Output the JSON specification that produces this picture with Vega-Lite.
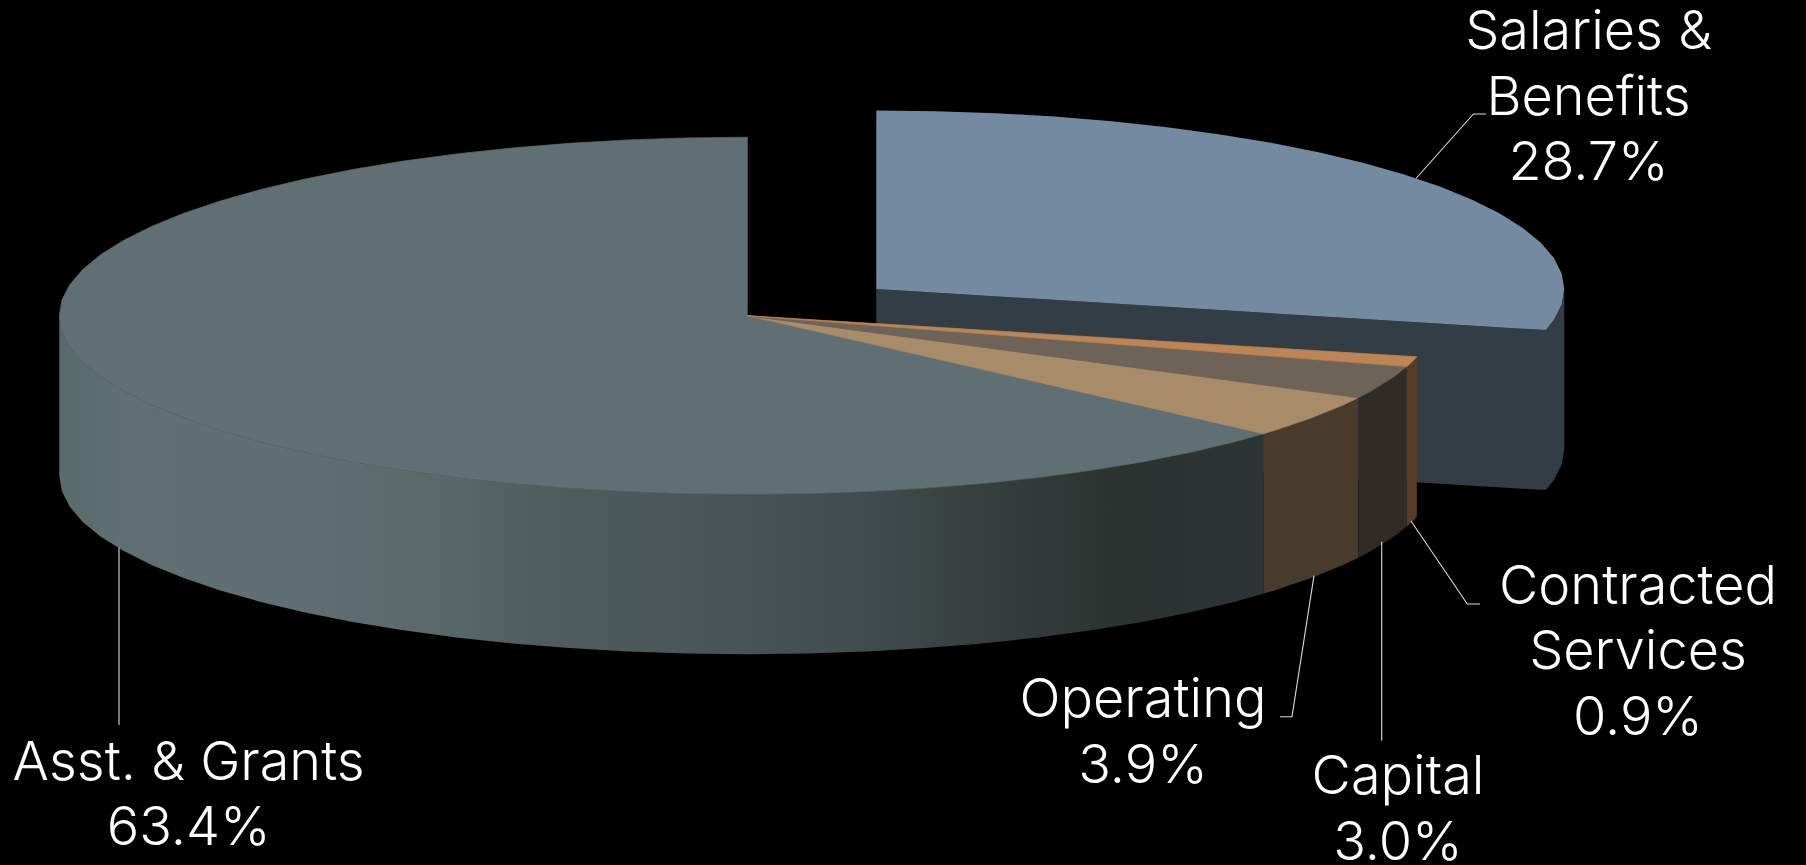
{
  "$schema": "https://vega.github.io/schema/vega-lite/v6.json",
  "width": 1806,
  "height": 865,
  "padding": 0,
  "autosize": "none",
  "background": "#000000",
  "config": {"view": {"stroke": null}},
  "datasets": {
    "salariesFaces": [
      {"face":"Salaries wall","seq":0,"x":876.3,"y":289},
      {"face":"Salaries wall","seq":1,"x":1545.8,"y":330.1},
      {"face":"Salaries wall","seq":2,"x":1553.9,"y":320},
      {"face":"Salaries wall","seq":3,"x":1561.7,"y":304.6},
      {"face":"Salaries wall","seq":4,"x":1564.3,"y":289},
      {"face":"Salaries wall","seq":5,"x":1564.3,"y":449},
      {"face":"Salaries wall","seq":6,"x":1561.7,"y":464.6},
      {"face":"Salaries wall","seq":7,"x":1553.9,"y":480},
      {"face":"Salaries wall","seq":8,"x":1545.8,"y":490.1},
      {"face":"Salaries wall","seq":9,"x":876.3,"y":449},

      {"face":"Salaries top","seq":0,"x":876.3,"y":289},
      {"face":"Salaries top","seq":1,"x":876.3,"y":110.5},
      {"face":"Salaries top","seq":2,"x":936.3,"y":111.2},
      {"face":"Salaries top","seq":3,"x":995.8,"y":113.2},
      {"face":"Salaries top","seq":4,"x":1054.4,"y":116.6},
      {"face":"Salaries top","seq":5,"x":1111.6,"y":121.3},
      {"face":"Salaries top","seq":6,"x":1167.1,"y":127.2},
      {"face":"Salaries top","seq":7,"x":1220.3,"y":134.4},
      {"face":"Salaries top","seq":8,"x":1270.9,"y":142.8},
      {"face":"Salaries top","seq":9,"x":1318.5,"y":152.3},
      {"face":"Salaries top","seq":10,"x":1362.8,"y":162.8},
      {"face":"Salaries top","seq":11,"x":1403.3,"y":174.3},
      {"face":"Salaries top","seq":12,"x":1439.9,"y":186.6},
      {"face":"Salaries top","seq":13,"x":1472.1,"y":199.7},
      {"face":"Salaries top","seq":14,"x":1499.8,"y":213.6},
      {"face":"Salaries top","seq":15,"x":1522.8,"y":227.9},
      {"face":"Salaries top","seq":16,"x":1540.9,"y":242.8},
      {"face":"Salaries top","seq":17,"x":1553.9,"y":258},
      {"face":"Salaries top","seq":18,"x":1561.7,"y":273.4},
      {"face":"Salaries top","seq":19,"x":1564.3,"y":289},
      {"face":"Salaries top","seq":20,"x":1561.7,"y":304.6},
      {"face":"Salaries top","seq":21,"x":1553.9,"y":320},
      {"face":"Salaries top","seq":22,"x":1545.8,"y":330.1}
    ],
    "faces": [
      {"face":"Asst top","seq":0,"x":747.3,"y":315.7},
      {"face":"Asst top","seq":1,"x":1263.4,"y":433.7},
      {"face":"Asst top","seq":2,"x":1233.8,"y":441.9},
      {"face":"Asst top","seq":3,"x":1189.5,"y":452.4},
      {"face":"Asst top","seq":4,"x":1141.9,"y":461.9},
      {"face":"Asst top","seq":5,"x":1091.3,"y":470.3},
      {"face":"Asst top","seq":6,"x":1038.1,"y":477.5},
      {"face":"Asst top","seq":7,"x":982.6,"y":483.4},
      {"face":"Asst top","seq":8,"x":925.4,"y":488.1},
      {"face":"Asst top","seq":9,"x":866.8,"y":491.5},
      {"face":"Asst top","seq":10,"x":807.3,"y":493.5},
      {"face":"Asst top","seq":11,"x":747.3,"y":494.2},
      {"face":"Asst top","seq":12,"x":687.3,"y":493.5},
      {"face":"Asst top","seq":13,"x":627.8,"y":491.5},
      {"face":"Asst top","seq":14,"x":569.2,"y":488.1},
      {"face":"Asst top","seq":15,"x":512,"y":483.4},
      {"face":"Asst top","seq":16,"x":456.5,"y":477.5},
      {"face":"Asst top","seq":17,"x":403.3,"y":470.3},
      {"face":"Asst top","seq":18,"x":352.7,"y":461.9},
      {"face":"Asst top","seq":19,"x":305.1,"y":452.4},
      {"face":"Asst top","seq":20,"x":260.8,"y":441.9},
      {"face":"Asst top","seq":21,"x":220.3,"y":430.4},
      {"face":"Asst top","seq":22,"x":183.7,"y":418.1},
      {"face":"Asst top","seq":23,"x":151.5,"y":405},
      {"face":"Asst top","seq":24,"x":123.8,"y":391.1},
      {"face":"Asst top","seq":25,"x":100.8,"y":376.8},
      {"face":"Asst top","seq":26,"x":82.7,"y":361.9},
      {"face":"Asst top","seq":27,"x":69.7,"y":346.7},
      {"face":"Asst top","seq":28,"x":61.9,"y":331.3},
      {"face":"Asst top","seq":29,"x":59.3,"y":315.7},
      {"face":"Asst top","seq":30,"x":61.9,"y":300.1},
      {"face":"Asst top","seq":31,"x":69.7,"y":284.7},
      {"face":"Asst top","seq":32,"x":82.7,"y":269.5},
      {"face":"Asst top","seq":33,"x":100.8,"y":254.6},
      {"face":"Asst top","seq":34,"x":123.8,"y":240.3},
      {"face":"Asst top","seq":35,"x":151.5,"y":226.4},
      {"face":"Asst top","seq":36,"x":183.7,"y":213.3},
      {"face":"Asst top","seq":37,"x":220.3,"y":201},
      {"face":"Asst top","seq":38,"x":260.8,"y":189.5},
      {"face":"Asst top","seq":39,"x":305.1,"y":179},
      {"face":"Asst top","seq":40,"x":352.7,"y":169.5},
      {"face":"Asst top","seq":41,"x":403.3,"y":161.1},
      {"face":"Asst top","seq":42,"x":456.5,"y":153.9},
      {"face":"Asst top","seq":43,"x":512,"y":148},
      {"face":"Asst top","seq":44,"x":569.2,"y":143.3},
      {"face":"Asst top","seq":45,"x":627.8,"y":139.9},
      {"face":"Asst top","seq":46,"x":687.3,"y":137.9},
      {"face":"Asst top","seq":47,"x":747.3,"y":137.2},

      {"face":"Operating top","seq":0,"x":747.3,"y":315.7},
      {"face":"Operating top","seq":1,"x":1358.3,"y":397.7},
      {"face":"Operating top","seq":2,"x":1343.1,"y":405},
      {"face":"Operating top","seq":3,"x":1310.9,"y":418.1},
      {"face":"Operating top","seq":4,"x":1274.3,"y":430.4},
      {"face":"Operating top","seq":5,"x":1263.4,"y":433.7},

      {"face":"Capital top","seq":0,"x":747.3,"y":315.7},
      {"face":"Capital top","seq":1,"x":1406.8,"y":366.6},
      {"face":"Capital top","seq":2,"x":1393.8,"y":376.8},
      {"face":"Capital top","seq":3,"x":1370.8,"y":391.1},
      {"face":"Capital top","seq":4,"x":1358.3,"y":397.7},

      {"face":"Contracted top","seq":0,"x":747.3,"y":315.7},
      {"face":"Contracted top","seq":1,"x":1416.8,"y":356.8},
      {"face":"Contracted top","seq":2,"x":1411.9,"y":361.9},
      {"face":"Contracted top","seq":3,"x":1406.8,"y":366.6}
    ],
    "grantsWall": [
      {"x":59.3,"top":315.7,"bottom":475.7},
      {"x":61.9,"top":331.3,"bottom":491.3},
      {"x":69.7,"top":346.7,"bottom":506.7},
      {"x":82.7,"top":361.9,"bottom":521.9},
      {"x":100.8,"top":376.8,"bottom":536.8},
      {"x":123.8,"top":391.1,"bottom":551.1},
      {"x":151.5,"top":405,"bottom":565},
      {"x":183.7,"top":418.1,"bottom":578.1},
      {"x":220.3,"top":430.4,"bottom":590.4},
      {"x":260.8,"top":441.9,"bottom":601.9},
      {"x":305.1,"top":452.4,"bottom":612.4},
      {"x":352.7,"top":461.9,"bottom":621.9},
      {"x":403.3,"top":470.3,"bottom":630.3},
      {"x":456.5,"top":477.5,"bottom":637.5},
      {"x":512,"top":483.4,"bottom":643.4},
      {"x":569.2,"top":488.1,"bottom":648.1},
      {"x":627.8,"top":491.5,"bottom":651.5},
      {"x":687.3,"top":493.5,"bottom":653.5},
      {"x":747.3,"top":494.2,"bottom":654.2},
      {"x":807.3,"top":493.5,"bottom":653.5},
      {"x":866.8,"top":491.5,"bottom":651.5},
      {"x":925.4,"top":488.1,"bottom":648.1},
      {"x":982.6,"top":483.4,"bottom":643.4},
      {"x":1038.1,"top":477.5,"bottom":637.5},
      {"x":1091.3,"top":470.3,"bottom":630.3},
      {"x":1141.9,"top":461.9,"bottom":621.9},
      {"x":1189.5,"top":452.4,"bottom":612.4},
      {"x":1233.8,"top":441.9,"bottom":601.9},
      {"x":1263.4,"top":433.7,"bottom":593.7}
    ],
    "walls": [
      {"face":"Operating wall","x":1263.4,"top":433.7,"bottom":593.7},
      {"face":"Operating wall","x":1274.3,"top":430.4,"bottom":590.4},
      {"face":"Operating wall","x":1310.9,"top":418.1,"bottom":578.1},
      {"face":"Operating wall","x":1343.1,"top":405,"bottom":565},
      {"face":"Operating wall","x":1358.3,"top":397.7,"bottom":557.7},
      {"face":"Capital wall","x":1358.3,"top":397.7,"bottom":557.7},
      {"face":"Capital wall","x":1370.8,"top":391.1,"bottom":551.1},
      {"face":"Capital wall","x":1393.8,"top":376.8,"bottom":536.8},
      {"face":"Capital wall","x":1406.8,"top":366.6,"bottom":526.6},
      {"face":"Contracted wall","x":1406.8,"top":366.6,"bottom":526.6},
      {"face":"Contracted wall","x":1411.9,"top":361.9,"bottom":521.9},
      {"face":"Contracted wall","x":1416.8,"top":356.8,"bottom":516.8}
    ],
    "leaders": [
      {"slice":"Salaries","seq":0,"x":1416,"y":178.5},
      {"slice":"Salaries","seq":1,"x":1473.4,"y":114},
      {"slice":"Salaries","seq":2,"x":1486,"y":114},
      {"slice":"Contracted","seq":0,"x":1411,"y":521},
      {"slice":"Contracted","seq":1,"x":1467.3,"y":604},
      {"slice":"Contracted","seq":2,"x":1480,"y":604},
      {"slice":"Capital","seq":0,"x":1381.7,"y":541.7},
      {"slice":"Capital","seq":1,"x":1381.7,"y":740.7},
      {"slice":"Operating","seq":0,"x":1314,"y":575.7},
      {"slice":"Operating","seq":1,"x":1292,"y":716.7},
      {"slice":"Operating","seq":2,"x":1280,"y":716.7},
      {"slice":"Asst","seq":0,"x":119,"y":547.5},
      {"slice":"Asst","seq":1,"x":119,"y":725}
    ],
    "labels": [
      {"label":"Salaries &\nBenefits\n28.7%","x":1588.5,"y":49.3},
      {"label":"Contracted\nServices\n0.9%","x":1638,"y":604},
      {"label":"Capital\n3.0%","x":1398,"y":794.3},
      {"label":"Operating\n3.9%","x":1143,"y":717.3},
      {"label":"Asst. & Grants\n63.4%","x":188.6,"y":780}
    ]
  },
  "encoding": {
    "x": {"field": "x", "type": "quantitative", "axis": null, "scale": {"domain": [0, 1806], "nice": false, "zero": false}}
  },
  "layer": [
    {
      "data": {"name": "salariesFaces"},
      "mark": {"type": "line", "filled": true, "interpolate": "linear-closed"},
      "encoding": {
        "y": {"field": "y", "type": "quantitative", "axis": null, "scale": {"domain": [865, 0], "nice": false, "zero": false}},
        "order": {"field": "seq", "type": "quantitative"},
        "detail": {"field": "face"},
        "fill": {
          "field": "face", "type": "nominal", "legend": null,
          "scale": {"domain": ["Salaries wall", "Salaries top"], "range": ["#333d46", "#738aa1"]}
        }
      }
    },
    {
      "data": {"name": "grantsWall"},
      "mark": {
        "type": "area",
        "color": {
          "gradient": "linear", "x1": 0, "y1": 0, "x2": 1, "y2": 0,
          "stops": [
            {"offset": 0, "color": "#596a6b"},
            {"offset": 0.05, "color": "#5f6f72"},
            {"offset": 0.2, "color": "#5e6e71"},
            {"offset": 0.283, "color": "#5b6a6b"},
            {"offset": 0.33, "color": "#586768"},
            {"offset": 0.379, "color": "#505f5f"},
            {"offset": 0.52, "color": "#4a5658"},
            {"offset": 0.665, "color": "#414c4f"},
            {"offset": 0.76, "color": "#36403f"},
            {"offset": 0.879, "color": "#2a3330"},
            {"offset": 1, "color": "#2c3535"}
          ]
        }
      },
      "encoding": {
        "y": {"field": "top", "type": "quantitative", "axis": null, "scale": {"domain": [865, 0], "nice": false, "zero": false}},
        "y2": {"field": "bottom"}
      }
    },
    {
      "data": {"name": "walls"},
      "mark": {"type": "area"},
      "encoding": {
        "y": {"field": "top", "type": "quantitative", "axis": null, "stack": null, "scale": {"domain": [865, 0], "nice": false, "zero": false}},
        "y2": {"field": "bottom"},
        "detail": {"field": "face"},
        "fill": {
          "field": "face", "type": "nominal", "legend": null,
          "scale": {
            "domain": ["Operating wall", "Capital wall", "Contracted wall"],
            "range": ["#483b2c", "#302b27", "#593c25"]
          }
        }
      }
    },
    {
      "data": {"name": "faces"},
      "mark": {"type": "line", "filled": true, "interpolate": "linear-closed", "strokeWidth": 0.7},
      "encoding": {
        "y": {"field": "y", "type": "quantitative", "axis": null, "scale": {"domain": [865, 0], "nice": false, "zero": false}},
        "order": {"field": "seq", "type": "quantitative"},
        "detail": {"field": "face"},
        "fill": {
          "field": "face", "type": "nominal", "legend": null,
          "scale": {
            "domain": ["Asst top", "Operating top", "Capital top", "Contracted top"],
            "range": ["#5f6f73", "#a88b68", "#6e6358", "#bd8455"]
          }
        },
        "stroke": {
          "field": "face", "type": "nominal", "legend": null,
          "scale": {
            "domain": ["Asst top", "Operating top", "Capital top", "Contracted top"],
            "range": ["#5f6f73", "#a88b68", "#6e6358", "#bd8455"]
          }
        }
      }
    },
    {
      "data": {"name": "leaders"},
      "mark": {"type": "line", "color": "#d9d9d9", "strokeWidth": 1.1},
      "encoding": {
        "y": {"field": "y", "type": "quantitative", "axis": null, "scale": {"domain": [865, 0], "nice": false, "zero": false}},
        "order": {"field": "seq", "type": "quantitative"},
        "detail": {"field": "slice"}
      }
    },
    {
      "data": {"name": "labels"},
      "mark": {
        "type": "text", "font": "Inter", "fontWeight": 300, "fontSize": 54,
        "color": "#ffffff", "align": "center", "baseline": "alphabetic",
        "lineBreak": "\n", "lineHeight": 65.4
      },
      "encoding": {
        "y": {"field": "y", "type": "quantitative", "axis": null, "scale": {"domain": [865, 0], "nice": false, "zero": false}},
        "text": {"field": "label"}
      }
    }
  ],
  "resolve": {"scale": {"fill": "independent", "stroke": "independent"}}
}
